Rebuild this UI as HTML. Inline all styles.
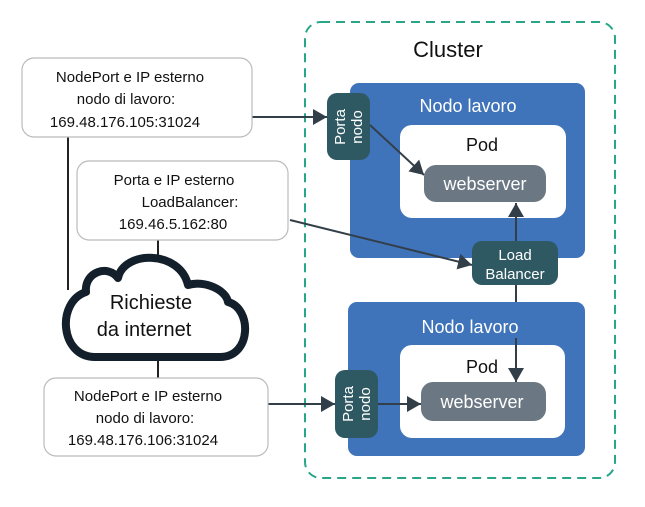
<!DOCTYPE html>
<html><head><meta charset="utf-8"><style>
body{margin:0;background:#fff;}
svg text{font-family:"Liberation Sans Narrow","Liberation Sans",sans-serif;}
</style></head><body>
<svg width="645" height="502" viewBox="0 0 645 502" xmlns="http://www.w3.org/2000/svg">
<defs>
<marker id="b" markerWidth="14" markerHeight="16" refX="14" refY="8" orient="auto" markerUnits="userSpaceOnUse">
<path d="M0,0 L14,8 L0,16 z" fill="#333f48"/>
</marker>
</defs>
<rect x="305" y="22" width="310" height="456" rx="16" fill="none" stroke="#27a68a" stroke-width="2" stroke-dasharray="9,6"/>
<text x="448" y="57" font-size="22" text-anchor="middle" fill="#111">Cluster</text>

<rect x="350" y="83" width="235" height="175" rx="9" fill="#3f73ba"/>
<text x="468" y="112" font-size="18" text-anchor="middle" fill="#fff">Nodo lavoro</text>
<rect x="400" y="125" width="166" height="93" rx="12" fill="#fff"/>
<text x="482" y="151" font-size="18" text-anchor="middle" fill="#111">Pod</text>
<rect x="424" y="165" width="122" height="37" rx="12" fill="#6b7883"/>
<text x="485" y="190" font-size="18" text-anchor="middle" fill="#fff">webserver</text>

<rect x="348" y="302" width="237" height="154" rx="9" fill="#3f73ba"/>
<text x="470" y="333" font-size="18" text-anchor="middle" fill="#fff">Nodo lavoro</text>
<rect x="400" y="345" width="165" height="93" rx="12" fill="#fff"/>
<text x="482" y="373" font-size="18" text-anchor="middle" fill="#111">Pod</text>
<rect x="421" y="382" width="125" height="39" rx="12" fill="#6b7883"/>
<text x="482" y="408" font-size="18" text-anchor="middle" fill="#fff">webserver</text>

<g stroke="#333f48" stroke-width="2" fill="none">
<line x1="68" y1="137" x2="68" y2="290" stroke="#222"/>
<line x1="158" y1="240" x2="158" y2="258" stroke="#222"/>
<line x1="158" y1="360" x2="158" y2="378" stroke="#222"/>
<line x1="252" y1="117" x2="327" y2="117" marker-end="url(#b)"/>
<line x1="370" y1="125" x2="424" y2="175" marker-end="url(#b)"/>
<line x1="516" y1="241" x2="516" y2="203" marker-end="url(#b)"/>
<line x1="290" y1="220" x2="472" y2="265" marker-end="url(#b)"/>
<line x1="516" y1="285" x2="516" y2="302"/>
<line x1="516" y1="338" x2="516" y2="382" marker-end="url(#b)"/>
<line x1="268" y1="404" x2="335" y2="404" marker-end="url(#b)"/>
<line x1="378" y1="404" x2="421" y2="404" marker-end="url(#b)"/>
</g>

<rect x="327" y="93" width="43" height="67" rx="10" fill="#2f5962"/>
<text transform="translate(345,127) rotate(-90)" font-size="15" text-anchor="middle" fill="#fff">Porta</text>
<text transform="translate(362,127) rotate(-90)" font-size="15" text-anchor="middle" fill="#fff">nodo</text>
<rect x="335" y="370" width="43" height="68" rx="10" fill="#2f5962"/>
<text transform="translate(353,404) rotate(-90)" font-size="15" text-anchor="middle" fill="#fff">Porta</text>
<text transform="translate(370,404) rotate(-90)" font-size="15" text-anchor="middle" fill="#fff">nodo</text>
<rect x="472" y="241" width="86" height="44" rx="10" fill="#2f5962"/>
<text x="515" y="260" font-size="15" text-anchor="middle" fill="#fff">Load</text>
<text x="515" y="279" font-size="15" text-anchor="middle" fill="#fff">Balancer</text>

<rect x="22" y="58" width="230" height="79" rx="12" fill="#fff" stroke="#bbb" stroke-width="1.2"/>
<text font-size="15" fill="#111"><tspan x="130" y="82" text-anchor="middle">NodePort e IP esterno</tspan><tspan x="126" y="104" text-anchor="middle">nodo di lavoro:</tspan><tspan x="125" y="127" text-anchor="middle">169.48.176.105:31024</tspan></text>
<rect x="77" y="161" width="211" height="79" rx="12" fill="#fff" stroke="#bbb" stroke-width="1.2"/>
<text font-size="15" fill="#111"><tspan x="174" y="185" text-anchor="middle">Porta e IP esterno</tspan><tspan x="190" y="207" text-anchor="middle">LoadBalancer:</tspan><tspan x="173" y="229" text-anchor="middle">169.46.5.162:80</tspan></text>
<rect x="44" y="378" width="224" height="78" rx="12" fill="#fff" stroke="#bbb" stroke-width="1.2"/>
<text font-size="15" fill="#111"><tspan x="148" y="401" text-anchor="middle">NodePort e IP esterno</tspan><tspan x="145" y="423" text-anchor="middle">nodo di lavoro:</tspan><tspan x="143" y="445" text-anchor="middle">169.48.176.106:31024</tspan></text>

<path d="M95,357 C60,357 56,302 86,292 C84,272 108,264 118,278 C124,250 180,250 188,285 C205,280 226,290 228,302 C252,308 252,357 220,357 Z" fill="#fff" stroke="#13202b" stroke-width="8" stroke-linejoin="round"/>
<text x="151" y="309" font-size="20" text-anchor="middle" fill="#111">Richieste</text>
<text x="144" y="336" font-size="20" text-anchor="middle" fill="#111">da internet</text>
</svg>
</body></html>
